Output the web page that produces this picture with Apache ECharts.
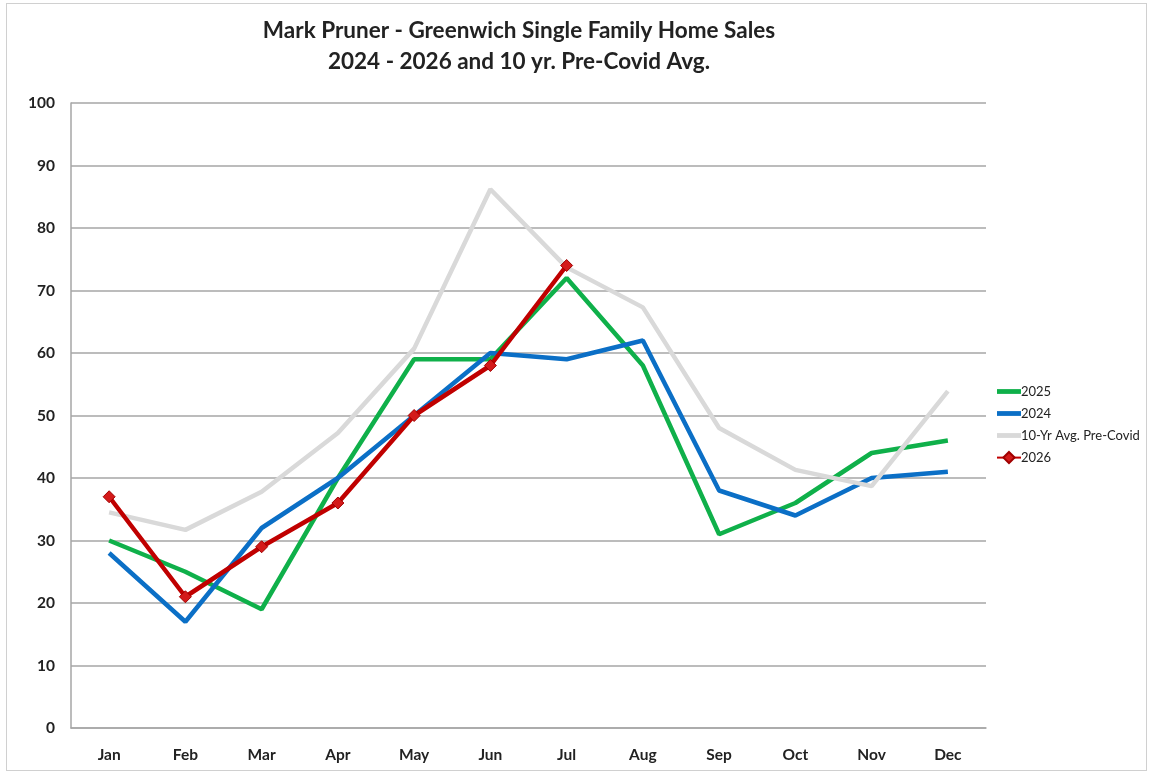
<!DOCTYPE html>
<html><head><meta charset="utf-8">
<script src="https://cdn.jsdelivr.net/npm/echarts@6/dist/echarts.min.js"></script>
<style>html,body{margin:0;padding:0;background:#fff}
#frame{position:absolute;left:6px;top:3px;width:1141px;height:768px;border:1px solid #d0d0d0;box-sizing:border-box}
#c{position:absolute;left:0;top:0;width:1156px;height:784px}</style>
</head><body><div id="frame"></div><div id="c"></div>
<script>
const months = ['Jan','Feb','Mar','Apr','May','Jun','Jul','Aug','Sep','Oct','Nov','Dec'];
const sales2025 = [30,25,19,40,59,59,72,58,31,36,44,46];
const sales2024 = [28,17,32,40,50,60,59,62,38,34,40,41];
const avgPreCovid = [34.5,31.7,37.8,47.2,60.7,86.2,73.7,67.3,48,41.3,38.7,53.9];
const sales2026 = [37,21,29,36,50,58,74];
const font = 'Lato, "Open Sans", sans-serif';
const chart = echarts.init(document.getElementById('c'));
function line(name, data, color, extra){
  return Object.assign({name, type:'line', data, symbol:'none', lineStyle:{width:4.5,color}, itemStyle:{color}, animation:false}, extra||{});
}
chart.setOption({
  animation:false,
  title:{text:'Mark Pruner - Greenwich Single Family Home Sales\n2024 - 2026 and 10 yr. Pre-Covid Avg.', left:514, top:10, textAlign:'center',
    textStyle:{fontFamily:font,fontSize:22.5,fontWeight:'bold',color:'#222',lineHeight:31}},
  grid:{left:71,right:170,top:103,bottom:56,containLabel:false},
  legend:{orient:'vertical',left:991,top:380,itemGap:9,itemWidth:24,itemHeight:14,
    textStyle:{fontFamily:font,fontSize:13,color:'#222',padding:[0,0,0,-5]},
    data:[{name:'2025',icon:'path://M0,40 L100,40 L100,60 L0,60 Z'},
          {name:'2024',icon:'path://M0,40 L100,40 L100,60 L0,60 Z'},
          {name:'10-Yr Avg. Pre-Covid',icon:'path://M0,40 L100,40 L100,60 L0,60 Z'},
          {name:'2026'}]},
  xAxis:{type:'category',data:months,boundaryGap:true,
    axisLine:{lineStyle:{color:'#a6a6a6',width:1.5}},axisTick:{show:false},
    axisLabel:{fontFamily:font,fontSize:15.5,fontWeight:'bold',color:'#222',margin:19}},
  yAxis:{type:'value',min:0,max:100,interval:10,
    axisLine:{show:true,lineStyle:{color:'#a6a6a6',width:1.5}},axisTick:{show:false},
    splitLine:{lineStyle:{color:'#a6a6a6',width:1.5}},
    axisLabel:{fontFamily:font,fontSize:15.5,fontWeight:'bold',color:'#222',margin:16}},
  series:[
    line('2025',sales2025,'#0fb04a'),
    line('2024',sales2024,'#0b6fc6'),
    line('10-Yr Avg. Pre-Covid',avgPreCovid,'#d9d9d9'),
    line('2026',sales2026,'#c00000',{symbol:'diamond',symbolSize:12,itemStyle:{color:'#d41a1a',borderColor:'#a00000',borderWidth:1}})
  ]
});
</script></body></html>
